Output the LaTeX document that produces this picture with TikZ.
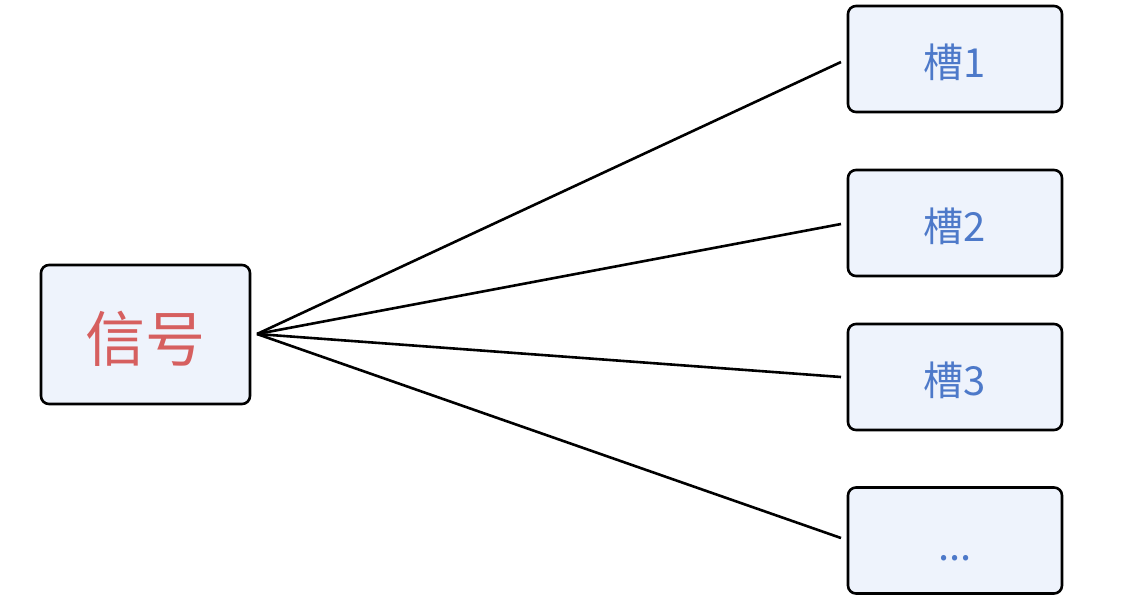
\documentclass[tikz,border=0pt]{standalone}
\usepackage{fontspec}
\setmainfont{Noto Sans CJK SC}
\definecolor{boxfill}{HTML}{EEF3FC}
\definecolor{sigred}{HTML}{D65F5F}
\definecolor{slotblue}{HTML}{4D79C9}
\newcommand{\lowertext}[2]{\raisebox{-#1}[\height][\depth]{#2}}
\begin{document}
\begin{tikzpicture}[x=1pt,y=-1pt,
  box/.style={draw=black, line width=2.6pt, rounded corners=8pt, fill=boxfill, inner sep=0pt},
  slotbox/.style={box, minimum width=214pt, minimum height=106pt, text=slotblue, font=\fontsize{40}{48}\selectfont},
  sigbox/.style={box, minimum width=209pt, minimum height=139pt, text=sigred, font=\fontsize{60}{70}\selectfont},
  link/.style={line width=2.6pt, draw=black}]
\useasboundingbox (0,0) rectangle (1129,606);
\node[sigbox] (sig) at (145.5,334.5) {\lowertext{4pt}{信号}};
\node[slotbox] (s1) at (955,59) {\lowertext{3pt}{槽1}};
\node[slotbox] (s2) at (955,223) {\lowertext{3pt}{槽2}};
\node[slotbox] (s3) at (955,377) {\lowertext{3pt}{槽3}};
\node[slotbox] (s4) at (955,540.5) {};
\node[text=slotblue, font=\fontsize{40}{48}\selectfont, anchor=base, inner sep=0pt] (dots) at (955,560) {...};
\coordinate (src) at (257,334);
\coordinate (e1) at (841,62);
\coordinate (e2) at (841,224);
\coordinate (e3) at (841,377);
\coordinate (e4) at (841,538);
\draw[link] (src) -- (e1);
\draw[link] (src) -- (e2);
\draw[link] (src) -- (e3);
\draw[link] (src) -- (e4);
\end{tikzpicture}
\end{document}
